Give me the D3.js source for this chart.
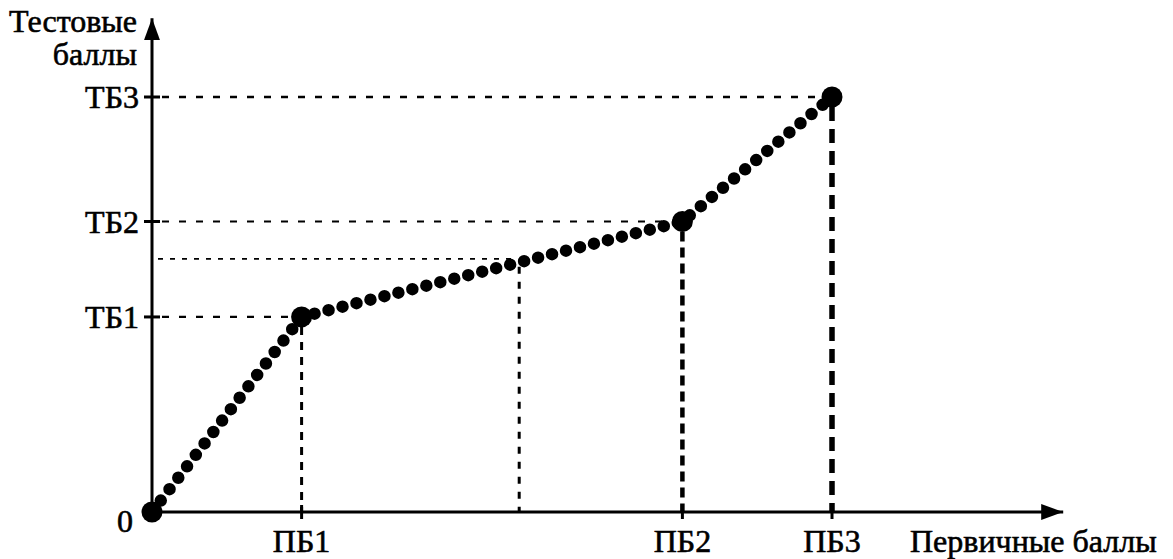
<!DOCTYPE html>
<html>
<head>
<meta charset="utf-8">
<script src="https://cdn.jsdelivr.net/npm/d3@7"></script>
<style>
  html, body { margin: 0; padding: 0; background: #fff; }
  text { font-family: "Liberation Serif", "DejaVu Serif", serif; fill: #000; stroke: #000; stroke-width: 0.6px; }
</style>
</head>
<body>
<div id="chart-container"></div>
<script>
// Key points of the conversion scale (primary score -> test score)
var pointLabelsX = ["ПБ1", "ПБ2", "ПБ3"];
var pointLabelsY = ["ТБ1", "ТБ2", "ТБ3"];
var primaryScores = [0, 11, 39, 50];
var testScores = [0, 47, 70, 100];

// Example point between ПБ1 and ПБ2
var sampleX = [27];
var sampleY = [61];

// Axis titles
var yTitle = ["Тестовые", "баллы"];
var xTitle = "Первичные баллы";

document.addEventListener("DOMContentLoaded", function() {
    var W = 1173, H = 559;
    var x0 = 152, y0 = 512;

    var svg = d3.select("#chart-container")
        .append("svg")
        .attr("width", W)
        .attr("height", H);

    // Scales
    var xScale = d3.scaleLinear().domain([0, 67]).range([x0, x0 + 67 * 13.6]);
    var yScale = d3.scaleLinear().domain([0, 119]).range([y0, y0 - 119 * 4.15]);

    var pts = primaryScores.map(function(d, i) { return {x: d, y: testScores[i]}; });

    // Reference dashed lines
    var guides = svg.append("g").attr("fill", "none").attr("stroke", "#000");

    // horizontal guides from y axis to each key point
    var hStyles = [
        {w: 2.2, dash: "7,10"},
        {w: 2.2, dash: "7,10"},
        {w: 2.4, dash: "7,10"}
    ];
    pts.slice(1).forEach(function(p, i) {
        guides.append("line")
            .attr("x1", xScale(0) + 10).attr("x2", xScale(p.x) - 6)
            .attr("y1", yScale(p.y)).attr("y2", yScale(p.y))
            .attr("stroke-width", hStyles[i].w)
            .attr("stroke-dasharray", hStyles[i].dash);
    });

    // vertical guides from each key point down to x axis
    var vStyles = [
        {w: 3, dash: "8,7"},
        {w: 4.5, dash: "10,6"},
        {w: 5.5, dash: "14,8"}
    ];
    pts.slice(1).forEach(function(p, i) {
        guides.append("line")
            .attr("x1", xScale(p.x)).attr("x2", xScale(p.x))
            .attr("y1", yScale(p.y) + 10).attr("y2", yScale(0))
            .attr("stroke-width", vStyles[i].w)
            .attr("stroke-dasharray", vStyles[i].dash);
    });

    // sample point guides (finer)
    sampleX.forEach(function(sx, i) {
        guides.append("line")
            .attr("x1", xScale(0) + 6).attr("x2", xScale(sx) - 4)
            .attr("y1", yScale(sampleY[i])).attr("y2", yScale(sampleY[i]))
            .attr("stroke-width", 1.8)
            .attr("stroke-dasharray", "5,7");
        guides.append("line")
            .attr("x1", xScale(sx)).attr("x2", xScale(sx))
            .attr("y1", yScale(sampleY[i]) + 8).attr("y2", yScale(0))
            .attr("stroke-width", 3)
            .attr("stroke-dasharray", "7,8");
    });

    // Axes with arrows
    var defs = svg.append("defs");
    defs.append("marker")
        .attr("id", "arrow")
        .attr("viewBox", "0 0 22 16")
        .attr("refX", 22).attr("refY", 8)
        .attr("markerUnits", "userSpaceOnUse")
        .attr("markerWidth", 22).attr("markerHeight", 16)
        .attr("orient", "auto")
        .append("path")
        .attr("d", "M0,0 L22,8 L0,16 Z")
        .attr("fill", "#000");

    svg.append("line")
        .attr("x1", xScale(0)).attr("y1", yScale(0))
        .attr("x2", xScale(67)).attr("y2", yScale(0))
        .attr("stroke", "#000").attr("stroke-width", 3)
        .attr("marker-end", "url(#arrow)");
    svg.append("line")
        .attr("x1", xScale(0)).attr("y1", yScale(0))
        .attr("x2", xScale(0)).attr("y2", yScale(119))
        .attr("stroke", "#000").attr("stroke-width", 3)
        .attr("marker-end", "url(#arrow)");

    // Tick marks
    primaryScores.slice(1).forEach(function(d) {
        svg.append("line")
            .attr("x1", xScale(d)).attr("x2", xScale(d))
            .attr("y1", yScale(0) - 7).attr("y2", yScale(0) + 7)
            .attr("stroke", "#000").attr("stroke-width", 3);
    });
    testScores.slice(1).forEach(function(d) {
        svg.append("line")
            .attr("x1", xScale(0) - 8).attr("x2", xScale(0) + 8)
            .attr("y1", yScale(d)).attr("y2", yScale(d))
            .attr("stroke", "#000").attr("stroke-width", 3);
    });

    // Dotted conversion line
    var line = d3.line()
        .x(function(d) { return xScale(d.x); })
        .y(function(d) { return yScale(d.y); });

    svg.append("path")
        .datum(pts)
        .attr("d", line)
        .attr("fill", "none")
        .attr("stroke", "#000")
        .attr("stroke-width", 12.5)
        .attr("stroke-linecap", "round")
        .attr("stroke-dasharray", "0,14.4");

    // Key point markers
    svg.selectAll("circle.key")
        .data(pts)
        .enter()
        .append("circle")
        .attr("class", "key")
        .attr("cx", function(d) { return xScale(d.x); })
        .attr("cy", function(d) { return yScale(d.y); })
        .attr("r", 10.5)
        .attr("fill", "#000");

    // Labels
    var fs = 32;
    svg.selectAll("text.xl")
        .data(pointLabelsX)
        .enter()
        .append("text")
        .attr("class", "xl")
        .attr("x", function(d, i) { return xScale(primaryScores[i + 1]); })
        .attr("y", 552)
        .attr("text-anchor", "middle")
        .attr("font-size", fs)
        .text(function(d) { return d; });

    svg.selectAll("text.yl")
        .data(pointLabelsY)
        .enter()
        .append("text")
        .attr("class", "yl")
        .attr("x", 139)
        .attr("y", function(d, i) { return yScale(testScores[i + 1]) + 11; })
        .attr("text-anchor", "end")
        .attr("font-size", fs)
        .text(function(d) { return d; });

    svg.append("text")
        .attr("x", 133).attr("y", 532)
        .attr("text-anchor", "end")
        .attr("font-size", fs)
        .text("0");

    svg.selectAll("text.yt")
        .data(yTitle)
        .enter()
        .append("text")
        .attr("class", "yt")
        .attr("x", 137)
        .attr("y", function(d, i) { return 32 + i * 33; })
        .attr("text-anchor", "end")
        .attr("font-size", fs)
        .text(function(d) { return d; });

    svg.append("text")
        .attr("x", 910).attr("y", 552)
        .attr("font-size", fs)
        .text(xTitle);
});
</script>
</body>
</html>
